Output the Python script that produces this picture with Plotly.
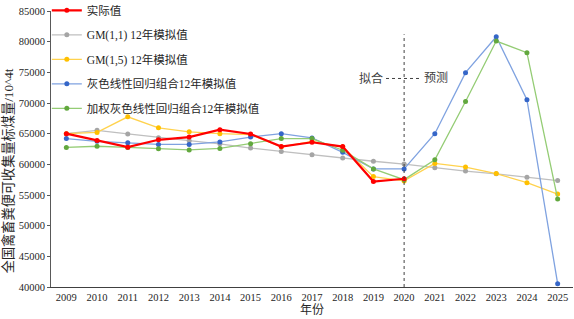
import plotly.graph_objects as go

years = [str(y) for y in range(2009, 2026)]
fit_years = years[:12]

actual = [65000, 63900, 62800, 64000, 64450, 65650, 64950, 62900, 63600, 62900, 57200, 57650]
gm11 = [65000, 65550, 64950, 64350, 63850, 63350, 62650, 62100, 61550, 61050, 60500, 60050,
        59450, 58900, 58450, 57900, 57350]
gm15 = [65000, 65200, 67750, 65950, 65300, 65000, 64850, 62850, 63750, 62850, 58000, 57300,
        60150, 59550, 58500, 57000, 55150]
glr = [64200, 63750, 63500, 63250, 63250, 63650, 64450, 65000, 64300, 61950, 59250, 59250,
       65000, 74950, 80800, 70550, 40550]
wglr = [62750, 62950, 62750, 62550, 62350, 62600, 63350, 64200, 64200, 62300, 59250, 57500,
        60750, 70250, 80100, 78200, 54350]

names = ["实际值", "GM(1,1) 12年模拟值", "GM(1,5) 12年模拟值",
         "灰色线性回归组合12年模拟值", "加权灰色线性回归组合12年模拟值"]
y_ticks = [40000, 45000, 50000, 55000, 60000, 65000, 70000, 75000, 80000, 85000]
y_tick_text = [str(v) for v in y_ticks]

FONT = "'Liberation Serif', 'Noto Sans CJK SC', serif"

fig = go.Figure()

series = [
    (years, gm11, names[1], "#BFBFBF", "#A5A5A5", 1.3, 2),
    (years, gm15, names[2], "#FFD24D", "#FFC000", 1.3, 3),
    (years, glr, names[3], "#7FA2E0", "#3566C8", 1.3, 4),
    (years, wglr, names[4], "#94CC74", "#62A83E", 1.3, 5),
    (fit_years, actual, names[0], "#FF0000", "#FF0000", 2.2, 1),
]
for x, y, n, lc, mc, lw, rank in series:
    fig.add_trace(go.Scatter(
        x=x, y=y, name=n, mode="lines+markers",
        line=dict(color=lc, width=lw),
        marker=dict(color=mc, size=5, line=dict(width=0)),
        legendgroup=f"g{rank}", legendrank=rank,
    ))

# divider between fit and forecast
fig.add_shape(type="line", xref="x", yref="y", x0=11, x1=11, y0=40000, y1=81200,
              line=dict(color="#404040", width=1, dash="dot"))
fig.add_shape(type="line", xref="x", yref="y", x0=10.41, x1=11.55, y0=74000, y1=74000,
              line=dict(color="#404040", width=1, dash="dot"))
fig.add_annotation(x=10.38, y=74000, xref="x", yref="y", text="拟合", showarrow=False,
                   xanchor="right", yanchor="middle", font=dict(size=12, color="#404040", family=FONT))
fig.add_annotation(x=11.57, y=74000, xref="x", yref="y", text="预测", showarrow=False,
                   xanchor="left", yanchor="middle", font=dict(size=12, color="#404040", family=FONT))

# y-axis title
fig.add_annotation(x=-0.082, y=0.42, xref="paper", yref="paper",
                   text="全国禽畜粪便可收集量标煤量/10^4t", textangle=-90, showarrow=False,
                   xanchor="center", yanchor="middle", font=dict(size=13.2, color="#262626", family=FONT))

fig.update_layout(
    width=574, height=319,
    margin=dict(l=51, r=1, t=11, b=32, autoexpand=False),
    paper_bgcolor="white", plot_bgcolor="white",
    font=dict(family=FONT, size=11, color="#262626"),
    showlegend=True,
    legend=dict(x=-0.008, y=1.055, xanchor="left", yanchor="top", traceorder="grouped",
                font=dict(size=11.5, family=FONT, color="#262626"),
                bgcolor="rgba(0,0,0,0)", tracegroupgap=5.5, itemwidth=30),
    xaxis=dict(type="category", categoryorder="array", categoryarray=years,
               range=[-0.5, 16.5], showgrid=False, showline=True, linecolor="#404040",
               linewidth=1, ticks="", tickfont=dict(size=10.5, family=FONT), automargin=False,
               title=dict(text="年份", standoff=3, font=dict(size=12, family=FONT))),
    yaxis=dict(range=[40000, 85000], tickvals=y_ticks, ticktext=y_tick_text, showgrid=False,
               showline=True, automargin=False,
               linecolor="#595959", linewidth=1, ticks="outside", ticklen=3, tickcolor="#595959",
               tickfont=dict(size=10.5, family=FONT), zeroline=False),
)

fig.write_html("out.html", config={"displayModeBar": False},
               post_script="document.body.style.margin='0';")
